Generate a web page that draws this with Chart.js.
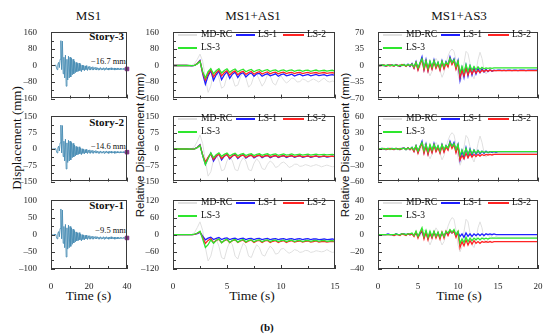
<!DOCTYPE html>
<html>
<head>
<meta charset="utf-8">
<script src="https://cdn.jsdelivr.net/npm/chart.js@4.4.1/dist/chart.umd.min.js"></script>
<style>
  body { margin: 0; background: #fff; }
  #stage { position: relative; width: 550px; height: 336px; overflow: hidden; background: #fff;
           font-family: "Liberation Serif", serif; color: #111; }
  #stage canvas { position: absolute; }
  .txt { position: absolute; white-space: nowrap; line-height: 1; transform: translate(-50%, -50%); }
  .title { font-size: 13px; }
  .xlab { font-size: 13.5px; }
  .ylab { font-size: 13px; transform: translate(-50%, -50%) rotate(-90deg); }
  .ylab2 { font-family: "Liberation Sans", Arial, sans-serif; font-size: 11.5px; transform: translate(-50%, -50%) rotate(-90deg); }
  .story { position: absolute; font-weight: bold; font-size: 11px; line-height: 1; transform: translateY(-50%); text-align: right; }
  .note { position: absolute; font-size: 8.5px; line-height: 1; transform: translateY(-50%); text-align: right; }
  .lg { position: absolute; font-size: 9.5px; line-height: 1; transform: translateY(-50%); white-space: nowrap; }
  .lgl { position: absolute; height: 2px; transform: translateY(-50%); }
</style>
</head>
<body>
<div id="stage">
  <div class="txt title" style="left:88.5px;top:15px">MS1</div>
  <div class="txt title" style="left:253px;top:15px">MS1+AS1</div>
  <div class="txt title" style="left:459px;top:15px">MS1+AS3</div>
  <div class="txt xlab" style="left:88.5px;top:296px">Time (s)</div>
  <div class="txt xlab" style="left:252px;top:296px">Time (s)</div>
  <div class="txt xlab" style="left:459px;top:296px">Time (s)</div>
  <div class="txt ylab" style="left:16px;top:138px">Displacement (mm)</div>
  <div class="txt ylab2" style="left:141px;top:145px">Relative Displacement (mm)</div>
  <div class="txt ylab2" style="left:346px;top:145px">Relative Displacement (mm)</div>
  <div class="txt" style="left:267px;top:327px;font-weight:bold;font-size:11px">(b)</div>
  <div class="story" style="right:426px;top:36px">Story-3</div>
  <div class="story" style="right:426px;top:122px">Story-2</div>
  <div class="story" style="right:426px;top:205px">Story-1</div>
  <div class="note" style="right:424px;top:61px">&minus;16.7 mm</div>
  <div class="note" style="right:424px;top:146px">&minus;14.6 mm</div>
  <div class="note" style="right:424px;top:230px">&minus;9.5 mm</div>
</div>
<script>
// MS1 time histories (step 0.4 s, 0-40 s)
const ms1S3 = [0,0,0,-1,2,-2,3,-8,-20,5,
  15,-10,30,120,-20,118,-40,40,-60,50,
  -100,30,-70,45,-60,40,-55,35,-45,30,
  -40,20,-35,15,-30,10,-28,12,-25,5,
  -30,2,-22,0,-25,-2,-20,0,-24,-5,
  -20,-4,-22,-8,-20,-6,-22,-10,-19,-8,-22,
  -11,-21,-12,-22,-10,-20,-13,-21,-11,-22,-12,-20,-10,-21,-13,-22,-12,-20,-11,-21,
  -14,-20,-12,-22,-13,-21,-12,-20,-14,-21,-13,-20,-15,-19,-14,-20,-15,-19,-16,-16.7];
const ms1S2 = [0,0,0,-1,2,-2,2,-7,-18,4,
  13,-9,28,110,-18,108,-35,36,-55,45,
  -92,28,-62,40,-55,36,-50,30,-40,26,
  -36,18,-32,12,-27,8,-25,10,-22,4,
  -26,1,-20,-1,-22,-3,-18,-1,-21,-5,
  -18,-4,-20,-7,-18,-6,-20,-9,-17,-7,-19,
  -10,-19,-11,-20,-9,-18,-12,-19,-10,-20,-11,-18,-9,-19,-12,-20,-11,-18,-10,-19,
  -13,-18,-11,-20,-12,-19,-11,-18,-13,-19,-12,-18,-13,-17,-12,-18,-13,-17,-14,-14.6];
const ms1S1 = [0,0,0,-1,1,-1,2,-5,-12,3,
  9,-6,18,75,-12,72,-25,24,-38,30,
  -65,20,-42,28,-38,24,-34,20,-28,16,
  -24,12,-21,8,-18,5,-17,6,-15,2,
  -18,0,-14,-1,-15,-2,-12,-1,-14,-3,
  -12,-3,-13,-5,-12,-4,-13,-6,-11,-5,-12,
  -6,-12,-7,-13,-6,-12,-8,-12,-6,-13,-7,-12,-6,-12,-8,-13,-7,-12,-6,-12,
  -8,-12,-7,-13,-8,-12,-7,-12,-8,-12,-8,-11,-9,-11,-8,-11,-9,-10,-9,-9.5];

// MS1+AS1 relative displacement (step 0.25 s, 0-15 s)
const a1s3Md = [0,0,0,0,0,0,0,2,10,30,
  55,20,-60,-130,-100,-40,-20,-60,-110,-100,
  -50,-30,-60,-100,-95,-55,-35,-60,-105,-90,
  -50,-40,-70,-100,-80,-45,-50,-85,-95,-65,
  -50,-70,-85,-75,-60,-65,-80,-78,-65,-70,
  -80,-72,-65,-72,-80,-70,-60,-75,-80,-75,-78];
const a1s3L1 = [0,0,0,0,0,0,-1,-2,0,10,
  25,-40,-90,-50,-25,-72,-45,-28,-68,-45,
  -30,-62,-42,-32,-58,-40,-35,-55,-42,-36,
  -52,-40,-38,
  -52,-44,-40,-50,-45,-40,-52,-44,-41,-50,-46,-42,-51,-45,-42,-50,-46,-43,-50,-46,-43,-49,-46,-44,-50,-47,-44,-48];
const a1s3L2 = [0,0,0,0,0,0,-1,-1,1,10,
  22,-35,-70,-40,-20,-55,-35,-22,-50,-34,
  -25,-47,-33,-26,-45,-33,-28,-43,-34,-29,
  -42,-34,-30,
  -41,-35,-31,-40,-35,-32,-40,-35,-32,-39,-35,-33,-39,-35,-33,-39,-36,-33,-38,-36,-34,-38,-36,-34,-38,-36,-35,-37];
const a1s3L3 = [0,0,0,0,0,0,0,-1,1,8,
  20,-30,-60,-30,-15,-40,-25,-15,-36,-24,
  -16,-33,-23,-17,-31,-23,-18,-30,-23,-19,
  -30,-23,-20,
  -29,-23,-20,-29,-23,-21,-29,-24,-21,-28,-24,-21,-28,-24,-22,-28,-24,-22,-28,-25,-22,-27,-25,-23,-27,-25,-23,-27];

const a1s2Md = [0,0,0,0,0,0,0,2,12,35,
  65,25,-55,-125,-105,-50,-25,-55,-100,-95,
  -55,-35,-55,-95,-100,-60,-40,-55,-95,-100,
  -65,-45,-60,-90,-95,-70,-55,-65,-85,-80,
  -65,-60,-70,-85,-80,-70,-70,-80,-78,-72,
  -75,-80,-76,-72,-76,-82,-78,-74,-78,-82,-80];
const a1s2L1 = [0,0,0,0,0,0,-1,-1,1,8,
  20,-30,-70,-40,-20,-55,-35,-22,-50,-33,
  -24,-46,-32,-25,-44,-32,-26,-42,-33,-27,
  -41,-33,-28,
  -40,-33,-29,-40,-34,-30,-39,-34,-30,-39,-34,-31,-38,-34,-31,-38,-35,-32,-38,-35,-32,-37,-35,-33,-37,-35,-33,-36];
const a1s2L2 = [0,0,0,0,0,0,-1,-1,1,7,
  18,-28,-60,-38,-22,-48,-33,-24,-44,-32,
  -26,-42,-32,-27,-40,-32,-28,-39,-32,-29,
  -38,-32,-29,
  -37,-32,-30,-37,-33,-30,-37,-33,-31,-36,-33,-31,-36,-33,-31,-36,-34,-32,-36,-34,-32,-35,-34,-32,-35,-34,-33,-35];
const a1s2L3 = [0,0,0,0,0,0,0,-1,1,6,
  16,-30,-72,-45,-18,-40,-26,-18,-34,-25,
  -19,-32,-25,-20,-31,-25,-21,-30,-25,-22,
  -30,-25,-22,
  -29,-25,-22,-29,-25,-23,-29,-26,-23,-28,-26,-23,-28,-26,-24,-28,-26,-24,-28,-26,-24,-27,-26,-25,-27,-26,-25,-27];

const a1s1Md = [0,0,0,0,0,0,0,1,8,25,
  45,15,-45,-92,-75,-35,-15,-40,-80,-85,
  -50,-25,-35,-75,-85,-55,-30,-40,-75,-80,
  -55,-35,-45,-70,-75,-55,-40,-50,-68,-65,
  -50,-48,-58,-65,-60,-52,-55,-62,-60,-55,
  -56,-62,-60,-56,-58,-60,-58,-52,-58,-62,-60];
const a1s1L1 = [0,0,0,0,0,0,0,0,1,4,
  8,-5,-18,-12,-9,-17,-13,-10,-17,-13,
  -11,-17,-14,-12,-17,-14,-12,-17,-14,-13,
  -17,-14,-13,
  -17,-15,-13,-17,-15,-14,-17,-15,-14,-17,-15,-14,-17,-15,-14,-17,-15,-14,-17,-15,-15,-17,-16,-15,-17,-16,-15,-17];
const a1s1L2 = [0,0,0,0,0,0,0,0,1,5,
  10,-10,-30,-20,-14,-28,-20,-16,-28,-21,
  -17,-28,-21,-18,-27,-22,-19,-27,-22,-19,
  -27,-22,-20,
  -27,-22,-20,-27,-23,-21,-27,-23,-21,-27,-23,-21,-26,-23,-22,-26,-23,-22,-26,-24,-22,-26,-24,-23,-26,-24,-23,-25];
const a1s1L3 = [0,0,0,0,0,0,0,0,2,6,
  12,-15,-45,-35,-18,-30,-20,-15,-28,-20,
  -16,-27,-20,-17,-26,-20,-17,-25,-20,-18,
  -25,-20,-18,
  -25,-20,-18,-24,-20,-19,-24,-21,-19,-24,-21,-19,-24,-21,-20,-24,-21,-20,-23,-21,-20,-23,-21,-20,-23,-22,-21,-23];

// MS1+AS3 relative displacement (step 0.25 s, 0-20 s)
const a3s3Md = [0,0,0,1,0,0,1,0,0,1,0,-1,1,2,0,2,1,
  2,0,4,2,-4,8,12,4,-12,-22,
  -12,4,15,8,-10,-25,-15,5,20,30,
  35,30,10,-20,-35,-25,5,30,25,5,
  -20,-28,-12,12,28,15,-8,-18,-12,-5,
  -10,-12,-10,-10,
  -10,-10,-10,-10,-10,-10,-10,-10,-10,-10,-10,-10,-10,-10,-10,-10,-10,-10,-10,-10];
const a3s3L1 = [0,0,1,0,-1,1,0,1,-1,2,0,-2,1,2,-1,3,-2,
  4,-5,8,-8,5,18,-8,12,-10,8,
  -6,12,-4,6,-8,10,-5,8,0,18,
  5,14,-5,10,-30,-5,-25,0,-22,-2,
  -20,-5,-18,-6,-15,-7,-14,-8,-13,-9,
  -12,-10,-11,-10,
  -10,-11,-10,-11,-10,-10,-11,-10,-10,-11,-10,-10,-10,-11,-10,-10,-10,-10,-10,-10];
const a3s3L2 = [0,0,0,1,-1,0,1,0,-1,1,0,-1,2,1,-2,2,-1,
  3,-6,6,-10,3,12,-10,8,-12,5,
  -8,8,-6,4,-10,7,-7,5,-3,14,
  2,10,-8,6,-25,-10,-22,-6,-20,-8,
  -18,-9,-16,-10,-15,-10,-13,-10,-12,-10,
  -12,-11,-11,-11,
  -11,-11,-11,-11,-11,-11,-11,-11,-11,-11,-11,-11,-11,-11,-11,-11,-11,-11,-11,-11];
const a3s3L3 = [0,0,1,0,0,1,-1,1,0,1,-1,1,0,2,-1,2,0,
  3,-3,7,-5,6,14,-4,10,-6,9,
  -3,10,-2,7,-5,9,-2,7,2,15,
  6,12,-2,9,-15,-2,-14,2,-12,0,
  -10,-2,-9,-3,-8,-4,-7,-5,-6,-5,
  -6,-5,-5,-5,
  -5,-5,-5,-5,-5,-5,-5,-5,-5,-5,-5,-5,-5,-5,-5,-5,-5,-5,-5,-5];

const a3s2Md = [0,0,0,1,0,0,1,0,0,1,0,-1,1,1,0,1,1,
  2,0,3,2,-3,6,10,3,-10,-18,
  -10,3,12,6,-8,-20,-12,4,16,25,
  30,26,8,-16,-30,-20,4,25,20,4,
  -16,-24,-10,10,24,12,-6,-15,-10,-4,
  -8,-10,-8,-8,
  -8,-8,-8,-8,-8,-8,-8,-8,-8,-8,-8,-8,-8,-8,-8,-8,-8,-8,-8,-8];
const a3s2L1 = [0,0,1,0,-1,1,0,1,-1,1,0,-1,1,2,-1,2,-1,
  3,-4,6,-6,4,14,-6,9,-8,6,
  -5,10,-3,5,-6,8,-4,6,0,14,
  4,12,-4,8,-20,-3,-16,2,-14,0,
  -12,-2,-10,-3,-9,-4,-8,-4,-7,-5,
  -6,-5,-6,-5,
  -5,-5,-5,-5,-5,-5,-5,-5,-5,-5,-5,-5,-5,-5,-5,-5,-5,-5,-5,-5];
const a3s2L2 = [0,0,0,1,-1,0,1,0,-1,1,0,-1,1,1,-1,2,-1,
  2,-5,5,-8,3,10,-8,6,-10,4,
  -7,7,-5,3,-8,6,-6,4,-2,11,
  1,8,-7,5,-20,-12,-18,-8,-16,-9,
  -15,-10,-14,-10,-13,-10,-12,-10,-11,-10,
  -11,-10,-10,-10,
  -10,-10,-10,-10,-10,-10,-10,-10,-10,-10,-10,-10,-10,-10,-10,-10,-10,-10,-10,-10];
const a3s2L3 = [0,0,1,0,0,1,-1,1,0,1,-1,1,0,2,-1,2,0,
  3,-2,6,-4,5,12,-3,8,-5,8,
  -2,8,-1,6,-4,8,-1,6,2,12,
  5,10,-1,8,-12,-2,-11,1,-10,-1,
  -9,-2,-8,-3,-7,-4,-6,-5,-6,-5,
  -5,-5,-5,-5,
  -5,-5,-5,-5,-5,-5,-5,-5,-5,-5,-5,-5,-5,-5,-5,-5,-5,-5,-5,-5];

const a3s1Md = [0,0,0,0,0,0,0,0,0,1,0,0,1,1,0,1,1,
  1,0,2,1,-2,4,6,2,-6,-12,
  -6,2,8,4,-6,-12,-8,2,10,16,
  20,18,5,-12,-20,-14,4,18,15,2,
  -12,-15,-6,8,15,8,-5,-10,-6,0,
  -3,-4,-2,-3,
  -3,-3,-3,-3,-3,-3,-3,-3,-3,-3,-3,-3,-3,-3,-3,-3,-3,-3,-3,-3];
const a3s1L1 = [0,0,0,0,0,1,0,0,-1,1,0,0,1,1,0,1,0,
  1,-1,2,-2,1,4,-3,3,-4,2,
  -3,3,-2,2,-3,2,-2,3,0,4,
  2,4,-1,3,-2,1,-3,2,-2,1,
  -2,1,-1,1,-1,1,-1,1,0,1,
  0,1,0,0,
  0,0,0,0,0,0,0,0,0,0,0,0,0,0,0,0,0,0,0,0];
const a3s1L2 = [0,0,0,0,0,0,0,0,-1,0,0,-1,1,0,-1,1,0,
  1,-2,3,-4,2,5,-5,3,-6,2,
  -4,3,-4,2,-5,3,-4,4,-1,5,
  2,4,-3,3,-15,-8,-13,-6,-12,-7,
  -11,-7,-10,-8,-10,-8,-9,-8,-9,-8,
  -9,-8,-8,-8,
  -8,-8,-8,-8,-8,-8,-8,-8,-8,-8,-8,-8,-8,-8,-8,-8,-8,-8,-8,-8];
const a3s1L3 = [0,0,0,0,0,0,0,0,0,1,0,0,1,1,0,1,1,
  2,-1,4,-2,3,8,-2,5,-3,4,
  -2,4,-2,3,-3,3,-2,4,2,6,
  3,6,0,4,-10,-5,-9,-3,-8,-4,
  -7,-4,-6,-4,-6,-4,-5,-4,-5,-4,
  -4,-4,-4,-4,
  -4,-4,-4,-4,-4,-4,-4,-4,-4,-4,-4,-4,-4,-4,-4,-4,-4,-4,-4,-4];

// end values marked on the MS1 panels
const ms1End = [-16.7, -14.6, -9.5];

const seriesNames = ['MD-RC', 'LS-1', 'LS-2', 'LS-3'];
const seriesColors = ['#e0e0e0', '#1f1fff', '#ff2424', '#2ee62e'];

// panel layout (plot area in page pixels)
const colBox = [[51, 127], [173, 335], [378, 538]];
const rowBox = [[29, 102], [113, 185], [197, 269]];
const colMax = [40, 15, 20];
const colStep = [20, 5, 5];
const colDt = [0.4, 0.25, 0.25];
const yRange = [[160, 150, 100], [160, 150, 120], [70, 60, 40]];

const tickFont = {family: '"Liberation Serif", serif', size: 9};
Chart.defaults.font.family = '"Liberation Serif", serif';
Chart.defaults.color = '#222';

// box frame + inward ticks (major and minor)
const frameTicks = {
    id: 'frameTicks',
    afterDatasetsDraw(chart) {
        const {ctx, chartArea: a} = chart;
        const xs = chart.scales.x, ys = chart.scales.y;
        ctx.save();
        ctx.strokeStyle = '#3a3a3a';
        ctx.lineWidth = 1;
        ctx.beginPath();
        const xStep = xs.options.ticks.stepSize;
        for (let k = 0; k * xStep / 2 <= xs.max + 1e-9; k++) {
            const px = Math.round(xs.getPixelForValue(k * xStep / 2)) + 0.5;
            const len = k % 2 === 0 ? 4 : 3;
            ctx.moveTo(px, a.bottom);
            ctx.lineTo(px, a.bottom - len);
        }
        const yStep = ys.options.ticks.stepSize;
        for (let k = 0; ys.min + k * yStep / 2 <= ys.max + 1e-9; k++) {
            const py = Math.round(ys.getPixelForValue(ys.min + k * yStep / 2)) + 0.5;
            const len = k % 2 === 0 ? 4 : 3;
            ctx.moveTo(a.left, py);
            ctx.lineTo(a.left + len, py);
        }
        ctx.stroke();
        ctx.strokeRect(Math.round(a.left) + 0.5, Math.round(a.top) + 0.5,
                       Math.round(a.width) - 1, Math.round(a.height) - 1);
        ctx.restore();
    }
};

const stage = document.getElementById('stage');

function toPoints(values, dt) {
    return values.map((v, i) => ({x: i * dt, y: v}));
}

function dashFmt(v) {
    return v < 0 ? '\u2013' + Math.abs(v) : String(v);
}

function addPanel(c, r, datasets) {
    const [L, R] = colBox[c];
    const [T, B] = rowBox[r];
    const padL = 36, padT = 8, padR = 10;
    const showX = r === 2;
    const padB = showX ? 24 : 8;
    const canvas = document.createElement('canvas');
    canvas.width = R - L + padL + padR;
    canvas.height = B - T + padT + padB;
    canvas.style.left = (L - padL) + 'px';
    canvas.style.top = (T - padT) + 'px';
    stage.appendChild(canvas);
    const ymax = yRange[c][r];
    new Chart(canvas, {
        type: 'line',
        data: {datasets: datasets},
        options: {
            responsive: false,
            animation: false,
            events: [],
            layout: {padding: {left: 0, top: padT, right: padR, bottom: showX ? 0 : padB}},
            plugins: {legend: {display: false}, tooltip: {enabled: false}},
            elements: {point: {radius: 0}, line: {tension: 0}},
            scales: {
                x: {
                    type: 'linear', min: 0, max: colMax[c],
                    grid: {display: false}, border: {display: false},
                    ticks: {display: showX, stepSize: colStep[c], padding: 4, autoSkip: false, maxRotation: 0,
                            font: tickFont, color: '#222', callback: dashFmt},
                    afterFit: s => { s.height = showX ? padB : 0; }
                },
                y: {
                    min: -ymax, max: ymax,
                    grid: {display: false}, border: {display: false},
                    ticks: {stepSize: ymax / 2, padding: 6, autoSkip: false,
                            font: tickFont, color: '#222', callback: dashFmt},
                    afterFit: s => { s.width = padL; }
                }
            }
        },
        plugins: [frameTicks]
    });
    return {L, T};
}

function addLegend(L, T) {
    const items = [[5, 24, 28, 0, 0], [63, 82, 85, 0, 1], [110, 131, 134, 0, 2], [5, 24, 28, 1, 3]];
    items.forEach(([x0, x1, tx, row, k]) => {
        const y = T + (row === 0 ? 6 : 19);
        const ln = document.createElement('div');
        ln.className = 'lgl';
        ln.style.cssText = `left:${L + x0}px;top:${y}px;width:${x1 - x0}px;background:${seriesColors[k]}`;
        const tx1 = document.createElement('div');
        tx1.className = 'lg';
        tx1.style.cssText = `left:${L + tx}px;top:${y}px`;
        tx1.textContent = seriesNames[k];
        stage.appendChild(ln);
        stage.appendChild(tx1);
    });
}

// MS1 column
[ms1S3, ms1S2, ms1S1].forEach((vals, r) => {
    addPanel(0, r, [
        {data: [{x: colMax[0], y: ms1End[r]}], showLine: false, pointRadius: 2.5, pointStyle: 'rect',
         pointBackgroundColor: '#7d2f80', pointBorderColor: '#7d2f80', clip: false, order: 0},
        {data: toPoints(vals, colDt[0]), borderColor: '#4a8db4', borderWidth: 0.9, order: 1}
    ]);
});

// MS1+AS1 and MS1+AS3 columns
const relSets = [
    [[a1s3Md, a1s3L1, a1s3L2, a1s3L3], [a1s2Md, a1s2L1, a1s2L2, a1s2L3], [a1s1Md, a1s1L1, a1s1L2, a1s1L3]],
    [[a3s3Md, a3s3L1, a3s3L2, a3s3L3], [a3s2Md, a3s2L1, a3s2L2, a3s2L3], [a3s1Md, a3s1L1, a3s1L2, a3s1L3]]
];
relSets.forEach((rows, ci) => {
    const c = ci + 1;
    rows.forEach((sets, r) => {
        const ds = sets.map((vals, k) => ({
            label: seriesNames[k],
            data: toPoints(vals, colDt[c]),
            borderColor: seriesColors[k],
            borderWidth: k === 0 ? 1 : 1.3,
            order: 4 - k
        }));
        const p = addPanel(c, r, ds);
        addLegend(p.L, p.T);
    });
});
</script>
</body>
</html>
